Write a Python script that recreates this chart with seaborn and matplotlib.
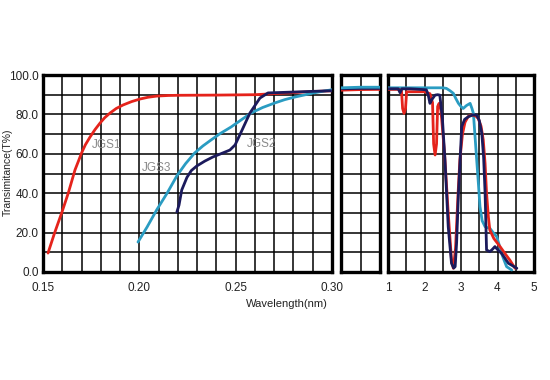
import numpy as np
import pandas as pd
import seaborn as sns
import matplotlib.pyplot as plt

# UV part (0.15 - 0.30 um)
jgs1_uv_x = [0.1526, 0.156, 0.1597, 0.1631, 0.1666, 0.1684, 0.170, 0.1720, 0.1744, 0.1770, 0.1796,
             0.1820, 0.1848, 0.1880, 0.1916, 0.1960, 0.2003, 0.2045, 0.209, 0.215, 0.220, 0.240,
             0.260, 0.275, 0.290, 0.300]
jgs1_uv_t = [9.6, 19.8, 30.0, 40.0, 51.8, 56.3, 60.4, 64.6, 68.5, 72.3, 75.6,
             78.3, 80.7, 83.0, 84.8, 86.5, 87.8, 88.7, 89.3, 89.6, 89.7, 89.8,
             90.0, 90.8, 91.6, 92.0]
jgs2_uv_x = [0.2195, 0.2206, 0.222, 0.2247, 0.2270, 0.2298, 0.2340, 0.2382, 0.2430, 0.247,
             0.2497, 0.2533, 0.2574, 0.2626, 0.2668, 0.2756, 0.290, 0.300]
jgs2_uv_t = [30.5, 34.0, 41.6, 48.0, 51.5, 53.8, 56.3, 58.4, 60.3, 61.9,
             64.5, 72.0, 80.7, 88.3, 90.9, 91.2, 91.7, 92.0]
jgs3_uv_x = [0.1993, 0.204, 0.209, 0.2144, 0.2196, 0.2240, 0.2287, 0.2330, 0.2372, 0.2420,
             0.2476, 0.2530, 0.258, 0.2640, 0.2703, 0.2755, 0.2807, 0.290, 0.296, 0.300]
jgs3_uv_t = [15.2, 22.8, 31.5, 40.0, 49.0, 55.0, 60.4, 64.0, 67.0, 70.3,
             73.6, 77.3, 80.7, 83.5, 85.8, 87.5, 88.8, 90.8, 91.9, 92.5]

# gap part (0.30 - 1.0 um)
gap_x = [0.30, 0.65, 1.00]
jgs1_gap_t = [92.3, 92.6, 92.7]
jgs2_gap_t = [93.0, 93.2, 93.2]
jgs3_gap_t = [93.5, 93.8, 93.8]

# IR part (1 - 5 um)
jgs1_ir_x = [1.0, 1.30, 1.37, 1.40, 1.44, 1.48, 1.51, 1.60, 2.0, 2.15, 2.22, 2.25, 2.29, 2.33,
             2.36, 2.40, 2.45, 2.55, 2.65, 2.74, 2.79, 2.85, 2.92, 2.97, 3.04, 3.11, 3.20,
             3.29, 3.40, 3.47, 3.55, 3.61, 3.66, 3.70, 3.75, 3.79, 3.90, 4.07, 4.20, 4.34, 4.48]
jgs1_ir_t = [92.7, 92.7, 92.0, 83.0, 80.5, 83.0, 91.5, 91.5, 91.5, 90.5, 86.0, 65.0, 59.4, 65.0,
             84.0, 85.6, 82.0, 60.0, 30.0, 6.0, 1.9, 12.0, 40.0, 57.0, 70.0, 76.0, 79.0,
             79.7, 79.2, 78.0, 74.0, 67.0, 55.0, 40.0, 28.0, 21.3, 17.0, 12.9, 9.5, 6.0, 1.9]
jgs2_ir_x = [1.0, 1.28, 1.33, 1.38, 1.60, 2.05, 2.10, 2.15, 2.20, 2.29, 2.36, 2.42, 2.49, 2.56,
             2.65, 2.74, 2.80, 2.84, 2.88, 2.93, 3.02, 3.10, 3.20, 3.32, 3.43, 3.50, 3.57,
             3.62, 3.66, 3.70, 3.79, 3.86, 3.93, 4.02, 4.11, 4.30, 4.53]
jgs2_ir_t = [93.0, 93.0, 91.0, 93.0, 93.0, 92.5, 90.0, 85.6, 87.5, 89.8, 90.0, 89.8, 78.0, 57.0,
             23.0, 4.4, 2.0, 2.7, 15.0, 40.0, 73.8, 77.5, 78.8, 79.7, 79.7, 77.0, 70.4,
             58.0, 40.0, 11.2, 10.3, 11.5, 12.9, 11.0, 9.5, 4.4, 1.9]
jgs3_ir_x = [1.0, 2.0, 2.50, 2.60, 2.70, 2.79, 2.86, 2.93, 3.00, 3.06, 3.15, 3.25, 3.30, 3.34,
             3.38, 3.43, 3.48, 3.52, 3.58, 3.66, 3.72, 3.79, 3.88, 3.98, 4.05, 4.11, 4.18,
             4.25, 4.39]
jgs3_ir_t = [93.5, 93.5, 93.5, 93.2, 92.0, 90.7, 88.0, 85.6, 84.0, 83.0, 84.5, 85.6, 83.0, 80.5,
             70.0, 56.9, 44.0, 33.2, 26.0, 23.0, 22.5, 22.2, 20.0, 17.9, 13.5, 9.5, 6.0,
             2.7, 1.0]

red = '#e5231b'
navy = '#1b1a5c'
cyan = '#2a9cc2'

sns.set_style('white')
plt.rcParams['font.family'] = ['Liberation Sans', 'DejaVu Sans']

fig = plt.figure(figsize=(5.5, 3.8), dpi=100)
bot, hgt = 108 / 380, 197 / 380
ax1 = fig.add_axes([43 / 550, bot, 289 / 550, hgt])
ax2 = fig.add_axes([341 / 550, bot, 39 / 550, hgt])
ax3 = fig.add_axes([388 / 550, bot, 146 / 550, hgt])

panels = [
    (ax1, [(jgs1_uv_x, jgs1_uv_t, red), (jgs3_uv_x, jgs3_uv_t, cyan), (jgs2_uv_x, jgs2_uv_t, navy)]),
    (ax2, [(gap_x, jgs1_gap_t, red), (gap_x, jgs2_gap_t, navy), (gap_x, jgs3_gap_t, cyan)]),
    (ax3, [(jgs3_ir_x, jgs3_ir_t, cyan), (jgs1_ir_x, jgs1_ir_t, red), (jgs2_ir_x, jgs2_ir_t, navy)]),
]
for ax, curves in panels:
    for xs, ts, c in curves:
        df = pd.DataFrame({'x': xs, 't': ts})
        sns.lineplot(data=df, x='x', y='t', color=c, lw=2, sort=False, ax=ax, zorder=3)
    ax.set_ylim(0, 100)
    ax.set_yticks(np.arange(0, 101, 20))
    ax.set_yticks(np.arange(0, 101, 10), minor=True)
    ax.grid(True, which='both', color='black', lw=1.1)
    ax.tick_params(which='both', length=0, labelsize=8.5, labelcolor='#222222')
    ax.tick_params(axis='x', pad=7)
    ax.tick_params(axis='y', pad=3)
    ax.set_xlabel('')
    ax.set_ylabel('')
    for s in ax.spines.values():
        s.set_color('black')
        s.set_linewidth(2.4)

ax1.set_xlim(0.15, 0.30)
ax1.set_xticks([0.15, 0.20, 0.25, 0.30])
ax1.set_xticklabels(['0.15', '0.20', '0.25', '0.30'])
ax1.set_xticks(np.arange(0.15, 0.3001, 0.01), minor=True)
ax1.set_yticklabels(['0.0', '20.0', '40.0', '60.0', '80.0', '100.0'])

ax2.set_xlim(0.30, 1.0)
ax2.set_xticks([0.65])
ax2.set_xticklabels([])
ax2.set_yticklabels([])

ax3.set_xlim(1, 5)
ax3.set_xticks([1, 2, 3, 4, 5])
ax3.set_xticklabels(['1', '2', '3', '4', '5'])
ax3.set_xticks(np.arange(1, 5.01, 0.5), minor=True)
ax3.set_yticklabels([])

ax1.text(0.183, 64.5, 'JGS1', color='#8a8a8a', fontsize=8.5, ha='center', va='center', zorder=4)
ax1.text(0.209, 53, 'JGS3', color='#8a8a8a', fontsize=8.5, ha='center', va='center', zorder=4)
ax1.text(0.2636, 65, 'JGS2', color='#8a8a8a', fontsize=8.5, ha='center', va='center', zorder=4)

fig.text(8 / 550, 1 - 172 / 380, 'Transimitance(T%)', fontsize=7.5, color='#222222',
         rotation=90, ha='center', va='center')
fig.text(287 / 550, 1 - 304 / 380, 'Wavelength(nm)', fontsize=8, color='#222222',
         ha='center', va='center')

fig.savefig('out.png', dpi=100)
